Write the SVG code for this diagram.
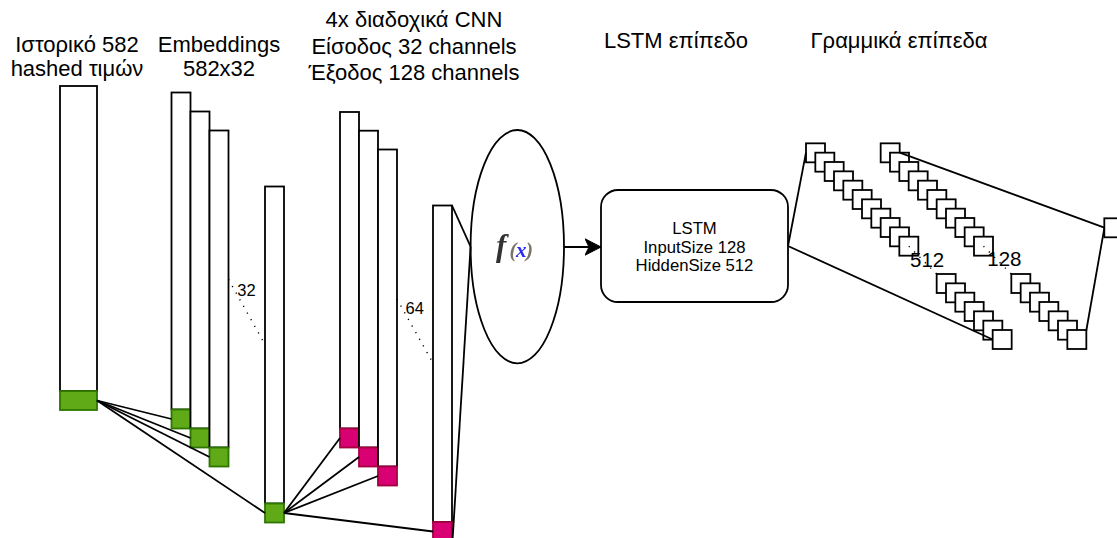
<svg xmlns="http://www.w3.org/2000/svg" width="1117" height="538" viewBox="0 0 1117 538">
  <style>
    .bar { fill: #ffffff; stroke: #000000; stroke-width: 1.8; }
    .green { fill: #60a917; stroke: #2d7600; stroke-width: 1.8; }
    .pink { fill: #d80073; stroke: #a50040; stroke-width: 1.8; }
    .sq { fill: #ffffff; stroke: #000000; stroke-width: 1.8; }
    .edge { fill: none; stroke: #000000; stroke-width: 1.8; }
    .dots { fill: none; stroke: #000000; stroke-width: 1.4; stroke-dasharray: 1.2 6.4; }
    .title { font-family: "Liberation Sans", Arial, sans-serif; font-size: 22px; fill: #000000; text-anchor: middle; }
    .lbl { font-family: "Liberation Sans", Arial, sans-serif; font-size: 16.5px; fill: #000000; }
    .big { font-family: "Liberation Sans", Arial, sans-serif; font-size: 20.5px; fill: #000000; }
    .body { font-family: "Liberation Sans", Arial, sans-serif; font-size: 16.7px; fill: #000000; text-anchor: middle; }
  </style>
  <defs>
    <marker id="arrow" markerUnits="userSpaceOnUse" markerWidth="18" markerHeight="18" viewBox="0 0 18 18" refX="16.5" refY="9" orient="auto">
      <path d="M0.5,0.8 L16.5,9 L0.5,17.2 L4.5,9 Z" fill="#000000" stroke="#000000" stroke-width="1"/>
    </marker>
    <filter id="soft" x="-20%" y="-20%" width="140%" height="140%">
      <feGaussianBlur stdDeviation="0.6"/>
    </filter>
  </defs>

  <!-- column titles -->
  <g id="titles">
    <text class="title" x="77" y="51.7">Ιστορικό 582</text>
    <text class="title" x="77" y="75.7">hashed τιμών</text>
    <text class="title" x="219" y="51.7">Embeddings</text>
    <text class="title" x="219" y="75.7">582x32</text>
    <text class="title" x="414" y="27.3">4x διαδοχικά CNN</text>
    <text class="title" x="414" y="54">Είσοδος 32 channels</text>
    <text class="title" x="414" y="80">Έξοδος 128 channels</text>
    <text class="title" x="676" y="48">LSTM επίπεδο</text>
    <text class="title" x="899" y="48">Γραμμικά επίπεδα</text>
  </g>

  <!-- hashed history input -->
  <g id="history">
    <rect class="bar" x="60" y="86" width="37" height="305"/>
    <rect class="green" x="60" y="391" width="37" height="19"/>
  </g>

  <!-- embedding columns -->
  <g id="embedding-1">
    <rect class="bar" x="171.5" y="92.5" width="19" height="317"/>
    <rect class="green" x="171.5" y="409.5" width="19" height="19"/>
  </g>
  <g id="embedding-2">
    <rect class="bar" x="190.5" y="111.5" width="19" height="317"/>
    <rect class="green" x="190.5" y="428.5" width="19" height="19"/>
  </g>
  <g id="embedding-3">
    <rect class="bar" x="209.5" y="130.5" width="19" height="317"/>
    <rect class="green" x="209.5" y="447.5" width="19" height="19"/>
  </g>
  <g id="embedding-32">
    <rect class="bar" x="265" y="186.5" width="19" height="317"/>
    <rect class="green" x="265" y="503.5" width="19" height="19"/>
  </g>

  <!-- CNN output channels -->
  <g id="cnn-1">
    <rect class="bar" x="340" y="112" width="19" height="316.5"/>
    <rect class="pink" x="340" y="428.5" width="19" height="19"/>
  </g>
  <g id="cnn-2">
    <rect class="bar" x="359" y="130.7" width="19" height="316.8"/>
    <rect class="pink" x="359" y="447.5" width="19" height="19"/>
  </g>
  <g id="cnn-3">
    <rect class="bar" x="378" y="149.5" width="19" height="317"/>
    <rect class="pink" x="378" y="466.5" width="19" height="19"/>
  </g>
  <g id="cnn-64">
    <rect class="bar" x="433" y="205.5" width="19" height="316.5"/>
    <rect class="pink" x="433" y="522" width="19" height="19"/>
  </g>

  <!-- activation -->
  <g id="activation">
    <ellipse class="bar" cx="517.3" cy="246.7" rx="46.7" ry="116.7"/>
    <g filter="url(#soft)">
      <text x="496" y="256" font-family="Liberation Serif, 'DejaVu Serif', serif" font-size="31" font-style="italic" font-weight="bold" fill="#333333">f</text>
      <text x="509.5" y="256.5" font-family="Liberation Serif, 'DejaVu Serif', serif" font-size="21" font-style="italic" font-weight="bold" fill="#7a7466" letter-spacing="-0.5">(<tspan fill="#2b2bf0">x</tspan>)</text>
    </g>
  </g>

  <!-- recurrent layer -->
  <g id="lstm">
    <rect class="bar" x="601" y="190" width="187" height="112" rx="17" ry="17"/>
    <text class="body" x="694.5" y="234">LSTM</text>
    <text class="body" x="694.5" y="253">InputSize 128</text>
    <text class="body" x="694.5" y="271">HiddenSize 512</text>
  </g>

  <!-- first linear layer: 512 units -->
  <g id="linear-512">
    <rect class="sq" x="806" y="143.33" width="19" height="19"/>
    <rect class="sq" x="815.33" y="152.67" width="19" height="19"/>
    <rect class="sq" x="824.67" y="162" width="19" height="19"/>
    <rect class="sq" x="834" y="171.33" width="19" height="19"/>
    <rect class="sq" x="843.33" y="180.67" width="19" height="19"/>
    <rect class="sq" x="852.67" y="190" width="19" height="19"/>
    <rect class="sq" x="862" y="199.33" width="19" height="19"/>
    <rect class="sq" x="871.33" y="208.67" width="19" height="19"/>
    <rect class="sq" x="880.67" y="218" width="19" height="19"/>
    <rect class="sq" x="890" y="227.33" width="19" height="19"/>
    <rect class="sq" x="899.33" y="236.67" width="19" height="19"/>
    <rect class="sq" x="936.67" y="274" width="19" height="19"/>
    <rect class="sq" x="946" y="283.33" width="19" height="19"/>
    <rect class="sq" x="955.33" y="292.67" width="19" height="19"/>
    <rect class="sq" x="964.67" y="302" width="19" height="19"/>
    <rect class="sq" x="974" y="311.33" width="19" height="19"/>
    <rect class="sq" x="983.33" y="320.67" width="19" height="19"/>
    <rect class="sq" x="992.67" y="330" width="19" height="19"/>
  </g>

  <!-- second linear layer: 128 units -->
  <g id="linear-128">
    <rect class="sq" x="880.67" y="143.33" width="19" height="19"/>
    <rect class="sq" x="890" y="152.67" width="19" height="19"/>
    <rect class="sq" x="899.33" y="162" width="19" height="19"/>
    <rect class="sq" x="908.67" y="171.33" width="19" height="19"/>
    <rect class="sq" x="918" y="180.67" width="19" height="19"/>
    <rect class="sq" x="927.33" y="190" width="19" height="19"/>
    <rect class="sq" x="936.67" y="199.33" width="19" height="19"/>
    <rect class="sq" x="946" y="208.67" width="19" height="19"/>
    <rect class="sq" x="955.33" y="218" width="19" height="19"/>
    <rect class="sq" x="964.67" y="227.33" width="19" height="19"/>
    <rect class="sq" x="974" y="236.67" width="19" height="19"/>
    <rect class="sq" x="1011.33" y="274" width="19" height="19"/>
    <rect class="sq" x="1020.67" y="283.33" width="19" height="19"/>
    <rect class="sq" x="1030" y="292.67" width="19" height="19"/>
    <rect class="sq" x="1039.33" y="302" width="19" height="19"/>
    <rect class="sq" x="1048.67" y="311.33" width="19" height="19"/>
    <rect class="sq" x="1058" y="320.67" width="19" height="19"/>
    <rect class="sq" x="1067.33" y="330" width="19" height="19"/>
  </g>

  <!-- output unit -->
  <g id="output">
    <rect class="sq" x="1104.3" y="218.3" width="19" height="19"/>
  </g>

  <!-- connectors -->
  <g id="connectors">
    <line class="edge" x1="97" y1="400.5" x2="171.5" y2="419"/>
    <line class="edge" x1="97" y1="400.5" x2="190.5" y2="438"/>
    <line class="edge" x1="97" y1="400.5" x2="209.5" y2="457"/>
    <line class="edge" x1="97" y1="400.5" x2="265" y2="513"/>

    <line class="edge" x1="284" y1="513" x2="340" y2="438"/>
    <line class="edge" x1="284" y1="513" x2="359" y2="457"/>
    <line class="edge" x1="284" y1="513" x2="378" y2="476"/>
    <line class="edge" x1="284" y1="513" x2="433" y2="531.5"/>

    <line class="edge" x1="452" y1="205.5" x2="470.6" y2="246.7"/>
    <line class="edge" x1="452.5" y1="541" x2="470.6" y2="246.7"/>

    <line class="edge" x1="564" y1="247" x2="601" y2="247" marker-end="url(#arrow)"/>

    <line class="edge" x1="788" y1="246" x2="806" y2="152.7"/>
    <line class="edge" x1="788" y1="246" x2="992.7" y2="339.5"/>

    <line class="edge" x1="899.7" y1="152.7" x2="1104.3" y2="227.7"/>
    <line class="edge" x1="1086.3" y1="330.5" x2="1104.3" y2="228.3"/>

    <line class="dots" x1="228.5" y1="279.4" x2="265" y2="344.5"/>
    <text class="lbl" x="237.3" y="296">32</text>
    <line class="dots" x1="397" y1="299" x2="433" y2="363"/>
    <text class="lbl" x="405.5" y="314.3">64</text>

    <line class="dots" x1="908.8" y1="246.2" x2="936.7" y2="274"/>
    <text class="big" x="910" y="266.7">512</text>
    <line class="dots" x1="983.5" y1="246.2" x2="1011.3" y2="274"/>
    <text class="big" x="987.3" y="266">128</text>
  </g>
</svg>
